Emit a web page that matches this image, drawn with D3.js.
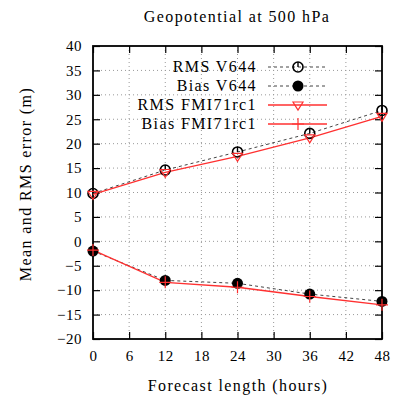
<!DOCTYPE html>
<html>
<head>
<meta charset="utf-8">
<script src="https://cdn.jsdelivr.net/npm/d3@7"></script>
<style>
  body { margin: 0; background: #fff; }
  svg text { font-family: "Liberation Serif", serif; fill: #000; letter-spacing: 1.4px; }
</style>
</head>
<body>
<svg width="393" height="398"></svg>
<script>
var hours = [0, 12, 24, 36, 48];
var rmsV644 = [9.8, 14.6, 18.3, 22.1, 26.8];
var biasV644 = [-2.0, -8.0, -8.6, -10.8, -12.3];
var rmsFMI = [9.6, 14.1, 17.4, 21.2, 25.6];
var biasFMI = [-1.8, -8.4, -9.4, -11.3, -13.0];
var xTicks = [0, 6, 12, 18, 24, 30, 36, 42, 48];
var yTicks = d3.range(-20, 41, 5);

var svg = d3.select("svg"),
    plotL = 93, plotR = 382, plotT = 46, plotB = 339;

var x = d3.scaleLinear().domain([0, 48]).range([plotL, plotR]);
var y = d3.scaleLinear().domain([-20, 40]).range([plotB, plotT]);

// grid
var grid = svg.append("g").attr("stroke", "#999").attr("stroke-width", 1).attr("stroke-dasharray", "1,3");
grid.selectAll(".gx").data(xTicks.slice(1, -1)).enter().append("line")
  .attr("x1", d => x(d)).attr("x2", d => x(d)).attr("y1", plotT).attr("y2", plotB);
grid.selectAll(".gy").data(yTicks.slice(1, -1)).enter().append("line")
  .attr("x1", plotL).attr("x2", plotR).attr("y1", d => y(d)).attr("y2", d => y(d));

// axes with inward ticks on all sides
svg.append("g").attr("transform", "translate(0," + plotB + ")")
  .call(d3.axisBottom(x).tickValues(xTicks).tickSize(-7).tickPadding(11).tickFormat(d3.format("d")));
svg.append("g").attr("transform", "translate(0," + plotT + ")")
  .call(d3.axisTop(x).tickValues(xTicks).tickSize(-7).tickFormat(""));
svg.append("g").attr("transform", "translate(" + plotL + ",0)")
  .call(d3.axisLeft(y).tickValues(yTicks).tickSize(-7).tickPadding(11).tickFormat(d3.format("d")));
svg.append("g").attr("transform", "translate(" + plotR + ",0)")
  .call(d3.axisRight(y).tickValues(yTicks).tickSize(-7).tickFormat(""));

svg.selectAll(".domain").remove();
svg.selectAll(".tick line").attr("stroke", "#000").attr("stroke-width", 1.2);
svg.selectAll(".tick text").attr("font-family", null).style("font-size", "15px").style("letter-spacing", "0.5px");

svg.append("rect").attr("x", plotL).attr("y", plotT).attr("width", plotR - plotL).attr("height", plotB - plotT)
  .attr("fill", "none").attr("stroke", "#000").attr("stroke-width", 1.8);

// series
var line = d3.line().x((d, i) => x(hours[i])).y(d => y(d));

function drawSeries(vals, dashed, color) {
  svg.append("path").datum(vals).attr("d", line).attr("fill", "none")
    .attr("stroke", color).attr("stroke-width", dashed ? 1 : 1.3)
    .attr("stroke-dasharray", dashed ? "3,3" : null);
}
drawSeries(rmsV644, true, "#444");
drawSeries(biasV644, true, "#444");
drawSeries(rmsFMI, false, "#ff3030");
drawSeries(biasFMI, false, "#ff3030");

function marker(g, type) {
  if (type === "open") {
    g.append("circle").attr("r", 5).attr("fill", "none").attr("stroke", "#000").attr("stroke-width", 1.6);
    g.append("line").attr("x1", 0).attr("x2", 0).attr("y1", -5).attr("y2", 0).attr("stroke", "#000").attr("stroke-width", 1.4);
  } else if (type === "filled") {
    g.append("circle").attr("r", 5.5).attr("fill", "#000");
  } else if (type === "tri") {
    g.append("path").attr("d", "M-5,-3L5,-3L0,5Z").attr("fill", "none").attr("stroke", "#ff3030").attr("stroke-width", 1.2);
  } else {
    g.append("path").attr("d", "M-6,0H6M0,-6V6").attr("stroke", "#ff3030").attr("stroke-width", 1.2);
  }
}
function drawMarkers(vals, type) {
  svg.append("g").selectAll("g").data(vals).enter().append("g")
    .attr("transform", (d, i) => "translate(" + x(hours[i]) + "," + y(d) + ")")
    .each(function () { marker(d3.select(this), type); });
}
drawMarkers(rmsV644, "open");
drawMarkers(biasV644, "filled");
drawMarkers(rmsFMI, "tri");
drawMarkers(biasFMI, "plus");

// legend
var legend = [
  { label: "RMS V644", type: "open", dashed: true, color: "#444" },
  { label: "Bias V644", type: "filled", dashed: true, color: "#444" },
  { label: "RMS FMI71rc1", type: "tri", dashed: false, color: "#ff3030" },
  { label: "Bias FMI71rc1", type: "plus", dashed: false, color: "#ff3030" }
];
var lg = svg.append("g").selectAll("g").data(legend).enter().append("g")
  .attr("transform", (d, i) => "translate(0," + (67 + i * 19) + ")");
lg.append("text").attr("x", 257).attr("y", 5).attr("text-anchor", "end").style("font-size", "16px").text(d => d.label);
lg.append("line").attr("x1", 268).attr("x2", 327).attr("y1", 0).attr("y2", 0)
  .attr("stroke", d => d.color).attr("stroke-width", d => d.dashed ? 1 : 1.3)
  .attr("stroke-dasharray", d => d.dashed ? "3,3" : null);
lg.append("g").attr("transform", "translate(298,0)").each(function (d) { marker(d3.select(this), d.type); });

// titles
svg.append("text").attr("x", 237).attr("y", 22).attr("text-anchor", "middle").style("font-size", "16px")
  .text("Geopotential at 500 hPa");
svg.append("text").attr("x", 238).attr("y", 391).attr("text-anchor", "middle").style("font-size", "16px")
  .text("Forecast length (hours)");
svg.append("text").attr("transform", "translate(31,184) rotate(-90)").attr("text-anchor", "middle").style("font-size", "16px")
  .text("Mean and RMS error (m)");
</script>
</body>
</html>
